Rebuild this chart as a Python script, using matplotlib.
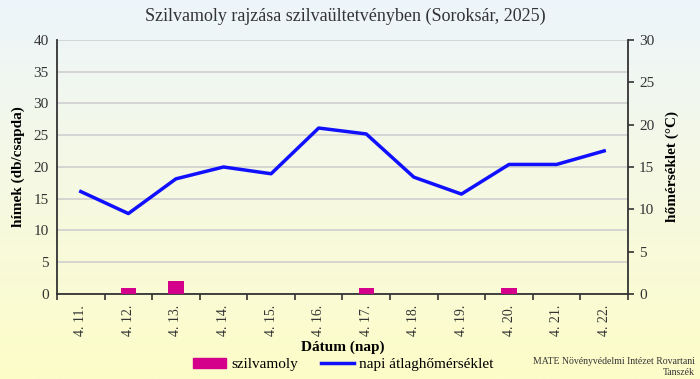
import numpy as np
import matplotlib
matplotlib.use("Agg")
import matplotlib.pyplot as plt
from matplotlib.colors import LinearSegmentedColormap
from matplotlib.patches import Patch
from matplotlib.lines import Line2D

# adatok
datumok = ["4. 11.", "4. 12.", "4. 13.", "4. 14.", "4. 15.", "4. 16.",
           "4. 17.", "4. 18.", "4. 19.", "4. 20.", "4. 21.", "4. 22."]
szilvamoly = [0, 1, 2, 0, 0, 0, 1, 0, 0, 1, 0, 0]
homerseklet = [12.1, 9.5, 13.6, 15.0, 14.2, 19.6, 18.9, 13.8, 11.8, 15.3, 15.3, 16.9]

plt.rcParams['font.family'] = ['Liberation Serif', 'DejaVu Serif']

fig = plt.figure(figsize=(7, 3.79), dpi=100)

# háttér színátmenet
bg = fig.add_axes([0, 0, 1, 1], zorder=-10)
cmap = LinearSegmentedColormap.from_list("bg", ["#edf5fb", "#f6f9e2", "#fdfdc8"])
bg.imshow(np.linspace(0, 1, 256).reshape(-1, 1), aspect="auto", cmap=cmap,
          extent=[0, 1, 0, 1])
bg.axis("off")

ax = fig.add_axes([0.0814, 0.2243, 0.8157, 0.6702])
ax.patch.set_alpha(0)
x = np.arange(len(datumok))

ax.bar(x, szilvamoly, width=0.32, color="#d4008c", zorder=3)
ax.set_xlim(-0.5, len(datumok) - 0.5)
ax.set_ylim(0, 40)
ax.set_yticks(range(0, 41, 5))
ax.yaxis.grid(True, color="#cfcfcf", linewidth=1.2)
ax.set_axisbelow(True)
ax.tick_params(axis="y", length=0, labelsize=11, colors="#333333", pad=6)
ax.set_xticks(x)
ax.set_xticklabels(datumok, rotation=90, fontsize=10, color="#333333")
ax.set_xticks(np.arange(-0.5, len(datumok), 1), minor=True)
ax.tick_params(axis="x", which="major", length=0, pad=8)
ax.tick_params(axis="x", which="minor", length=4, width=1.2, color="#333333")
for s in ["top", "right"]:
    ax.spines[s].set_visible(False)
ax.spines["left"].set_color("#333333")
ax.spines["bottom"].set_color("#333333")
ax.spines["left"].set_linewidth(1.3)
ax.spines["bottom"].set_linewidth(1.3)
ax.set_ylabel("hímek (db/csapda)", fontsize=11, fontweight="bold", labelpad=6)
ax.set_xlabel("Dátum (nap)", fontsize=11, fontweight="bold")
ax.xaxis.set_label_coords(0.5, -0.185)

ax2 = ax.twinx()
ax2.plot(x, homerseklet, color="#1010ff", linewidth=2.5, zorder=4)
ax2.set_ylim(0, 30)
ax2.set_yticks(range(0, 31, 5))
ax2.tick_params(axis="y", length=4, width=1.2, labelsize=11, colors="#333333", pad=4)
for s in ["top", "left", "bottom"]:
    ax2.spines[s].set_visible(False)
ax2.spines["right"].set_color("#333333")
ax2.spines["right"].set_linewidth(1.3)
ax2.set_ylabel("hőmérséklet (°C)", fontsize=11, fontweight="bold", labelpad=8)

fig.text(0.493, 0.958, "Szilvamoly rajzása szilvaültetvényben (Soroksár, 2025)",
         ha="center", va="center", fontsize=13, color="#333333")

handles = [Patch(color="#d4008c"), Line2D([], [], color="#1010ff", linewidth=2.5)]
fig.legend(handles, ["szilvamoly", "napi átlaghőmérséklet"], loc="center",
           bbox_to_anchor=(0.49, 0.038), ncol=2, frameon=False, fontsize=11,
           handlelength=2.2, handletextpad=0.3, columnspacing=1.5,
           borderpad=0.1)

fig.text(0.993, 0.032, "MATE Növényvédelmi Intézet Rovartani\nTanszék",
         ha="right", va="center", fontsize=7, color="#333333", linespacing=1.3)

fig.savefig("out.png", dpi=100)
